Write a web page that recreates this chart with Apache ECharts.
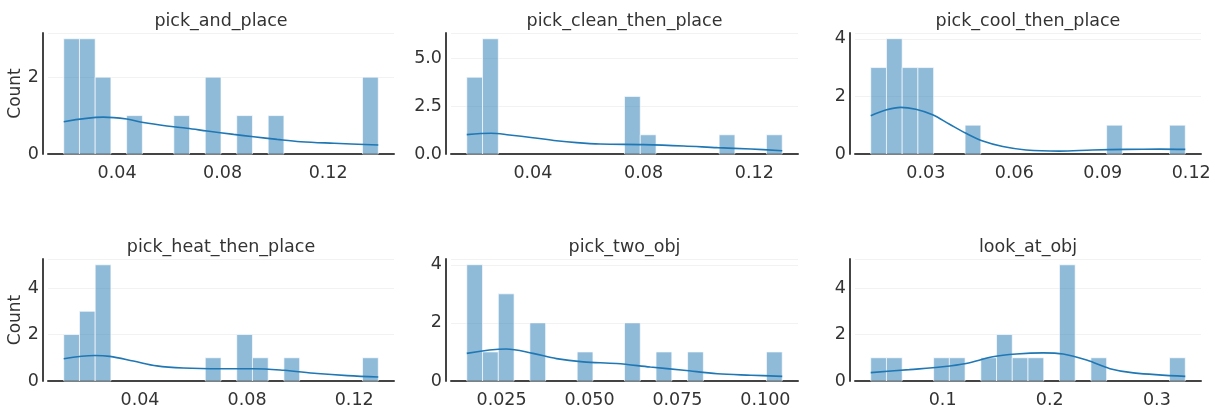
<!DOCTYPE html>
<html>
<head>
<meta charset="utf-8">
<script src="https://cdn.jsdelivr.net/npm/echarts@6/dist/echarts.min.js"></script>
<style>
  html, body { margin: 0; padding: 0; background: #fff; }
  #chart-container { width: 1220px; height: 408px; }
</style>
</head>
<body>
<div id="chart-container"></div>
<script>
// data: 20-bin histograms + kde curves
var panelNames = ['pick_and_place', 'pick_clean_then_place', 'pick_cool_then_place',
                  'pick_heat_then_place', 'pick_two_obj', 'look_at_obj'];

// [first bin edge, last bin edge]
var binRanges = [
  [0.0198, 0.1390],
  [0.0161, 0.1301],
  [0.0113, 0.1180],
  [0.0115, 0.1290],
  [0.0151, 0.1048],
  [0.0329, 0.3265]
];

var binCounts = [
  [3, 3, 2, 0, 1, 0, 0, 1, 0, 2, 0, 1, 0, 1, 0, 0, 0, 0, 0, 2],
  [4, 6, 0, 0, 0, 0, 0, 0, 0, 0, 3, 1, 0, 0, 0, 0, 1, 0, 0, 1],
  [3, 4, 3, 3, 0, 0, 1, 0, 0, 0, 0, 0, 0, 0, 0, 1, 0, 0, 0, 1],
  [2, 3, 5, 0, 0, 0, 0, 0, 0, 1, 0, 2, 1, 0, 1, 0, 0, 0, 0, 1],
  [4, 1, 3, 0, 2, 0, 0, 1, 0, 0, 2, 0, 1, 0, 1, 0, 0, 0, 0, 1],
  [1, 1, 0, 0, 1, 1, 0, 1, 2, 1, 1, 0, 5, 0, 1, 0, 0, 0, 0, 1]
];

var kdeCurves = [
  [[0.0198, 0.84], [0.0348, 0.96], [0.0437, 0.91], [0.0500, 0.82], [0.0589, 0.73], [0.0665, 0.67],
   [0.0741, 0.60], [0.0842, 0.51], [0.0918, 0.45], [0.1007, 0.38], [0.1096, 0.32], [0.1222, 0.28], [0.1390, 0.235]],
  [[0.0161, 1.01], [0.0249, 1.08], [0.0315, 0.99], [0.0400, 0.85], [0.0485, 0.69], [0.0558, 0.59],
   [0.0643, 0.52], [0.0800, 0.49], [0.0945, 0.42], [0.1067, 0.33], [0.1188, 0.26], [0.1301, 0.17]],
  [[0.0113, 1.33], [0.0164, 1.53], [0.0215, 1.62], [0.0266, 1.55], [0.0323, 1.36], [0.0379, 1.04],
   [0.0436, 0.72], [0.0493, 0.45], [0.0561, 0.26], [0.0640, 0.14], [0.0753, 0.10], [0.0866, 0.14],
   [0.0980, 0.16], [0.1093, 0.17], [0.1180, 0.16]],
  [[0.0115, 0.96], [0.0231, 1.10], [0.0287, 1.06], [0.0375, 0.86], [0.0463, 0.65], [0.0562, 0.56],
   [0.0700, 0.53], [0.0825, 0.53], [0.0937, 0.46], [0.1062, 0.32], [0.1175, 0.23], [0.1290, 0.17]],
  [[0.0151, 0.95], [0.0263, 1.10], [0.0339, 0.95], [0.0406, 0.77], [0.0482, 0.66], [0.0577, 0.60],
   [0.0673, 0.48], [0.0768, 0.37], [0.0864, 0.25], [0.0959, 0.20], [0.1048, 0.16]],
  [[0.0329, 0.36], [0.0688, 0.49], [0.1000, 0.61], [0.1219, 0.75], [0.1469, 1.04], [0.1688, 1.16],
   [0.1938, 1.21], [0.2125, 1.16], [0.2344, 0.90], [0.2562, 0.53], [0.2781, 0.35], [0.3265, 0.20]]
];

var xTicks = [
  [0.04, 0.08, 0.12],
  [0.04, 0.08, 0.12],
  [0.03, 0.06, 0.09, 0.12],
  [0.04, 0.08, 0.12],
  [0.025, 0.05, 0.075, 0.1],
  [0.1, 0.2, 0.3]
];
var xTickLabels = [
  ['0.04', '0.08', '0.12'],
  ['0.04', '0.08', '0.12'],
  ['0.03', '0.06', '0.09', '0.12'],
  ['0.04', '0.08', '0.12'],
  ['0.025', '0.050', '0.075', '0.100'],
  ['0.1', '0.2', '0.3']
];
var yTicks = [
  [0, 2],
  [0, 2.5, 5],
  [0, 2, 4],
  [0, 2, 4],
  [0, 2, 4],
  [0, 2, 4]
];
var yTickLabels = [
  ['0', '2'],
  ['0.0', '2.5', '5.0'],
  ['0', '2', '4'],
  ['0', '2', '4'],
  ['0', '2', '4'],
  ['0', '2', '4']
];

var dom = document.getElementById('chart-container');
var myChart = echarts.init(dom, null, { renderer: 'canvas' });

var FONT = 'DejaVu Sans';
var INK = '#333';
var SPINE = '#444';
var colLeft = [48, 451, 855];
var colWidth = [346, 347, 346];
var rowTop = [33, 259];
var rowHeight = [121, 122];

function labeler(ticks, labels) {
  return function (v) {
    for (var k = 0; k < ticks.length; k++) {
      if (Math.abs(ticks[k] - v) < 1e-9) return labels[k];
    }
    return '';
  };
}

var grids = [], xAxes = [], yAxes = [], series = [], titles = [];

panelNames.forEach(function (name, i) {
  var r = Math.floor(i / 3), c = i % 3;
  var lo = binRanges[i][0], hi = binRanges[i][1];
  var w = (hi - lo) / binCounts[i].length;
  var pad = (hi - lo) * 0.05;
  var ymax = Math.max.apply(null, binCounts[i]) * 1.05;

  grids.push({
    left: colLeft[c], top: rowTop[r], width: colWidth[c], height: rowHeight[r],
    containLabel: false, outerBoundsMode: 'none'
  });

  titles.push({
    text: name,
    left: colLeft[c] + colWidth[c] / 2,
    top: r === 0 ? 12 : 238,
    textAlign: 'center',
    padding: 0,
    textStyle: { fontFamily: FONT, fontSize: 17.5, fontWeight: 'normal', color: INK }
  });

  xAxes.push({
    type: 'value',
    gridIndex: i,
    min: lo - pad,
    max: hi + pad,
    offset: 5,
    axisLine: { show: true, lineStyle: { color: SPINE, width: 2 } },
    axisTick: { show: false },
    splitLine: { show: false },
    axisLabel: {
      customValues: xTicks[i],
      formatter: labeler(xTicks[i], xTickLabels[i]),
      fontFamily: FONT, fontSize: 17.5, color: INK, margin: 5
    }
  });

  yAxes.push({
    type: 'value',
    gridIndex: i,
    min: 0,
    max: ymax,
    interval: yTicks[i][1],
    offset: 5,
    name: c === 0 ? 'Count' : '',
    nameLocation: 'middle',
    nameGap: 19,
    nameRotate: 90,
    nameTextStyle: { fontFamily: FONT, fontSize: 17, color: INK },
    axisLine: { show: true, lineStyle: { color: SPINE, width: 2 } },
    axisTick: { show: false },
    splitLine: { show: true, lineStyle: { color: '#f2f2f2', width: 1 } },
    axisLabel: {
      customValues: yTicks[i],
      formatter: labeler(yTicks[i], yTickLabels[i]),
      fontFamily: FONT, fontSize: 17.5, color: INK, margin: 4
    }
  });

  var bars = [];
  binCounts[i].forEach(function (cnt, k) {
    if (cnt > 0) bars.push([lo + k * w, lo + (k + 1) * w, cnt]);
  });

  series.push({
    type: 'custom',
    xAxisIndex: i,
    yAxisIndex: i,
    encode: { x: [0, 1], y: 2 },
    data: bars,
    renderItem: function (params, api) {
      var p0 = api.coord([api.value(0), api.value(2)]);
      var p1 = api.coord([api.value(1), 0]);
      return {
        type: 'rect',
        shape: { x: p0[0], y: p0[1], width: p1[0] - p0[0], height: p1[1] - p0[1] },
        style: { fill: 'rgba(31,119,180,0.5)', stroke: 'rgba(255,255,255,0.65)', lineWidth: 1 }
      };
    },
    z: 2
  });

  series.push({
    type: 'line',
    xAxisIndex: i,
    yAxisIndex: i,
    data: kdeCurves[i],
    smooth: 0.35,
    showSymbol: false,
    lineStyle: { color: '#1f77b4', width: 1.6 },
    z: 3
  });
});

var option = {
  animation: false,
  backgroundColor: '#fff',
  title: titles,
  grid: grids,
  xAxis: xAxes,
  yAxis: yAxes,
  series: series
};

myChart.setOption(option);
window.addEventListener('resize', myChart.resize);
</script>
</body>
</html>
